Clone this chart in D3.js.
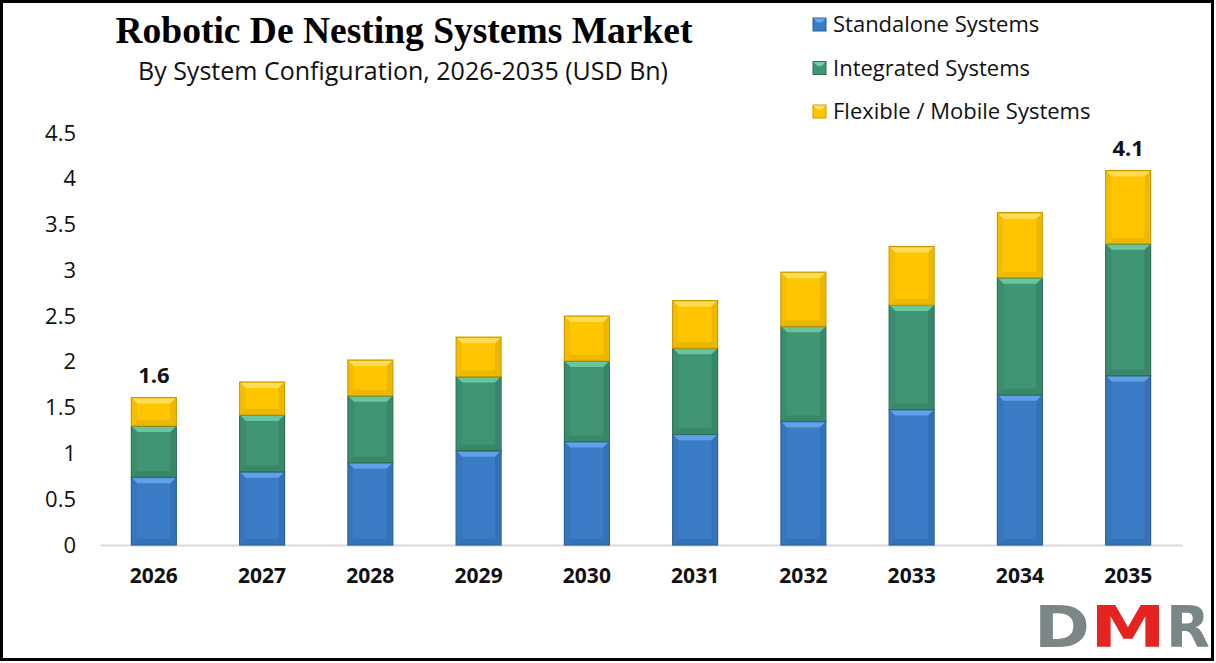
<!DOCTYPE html>
<html>
<head>
<meta charset="utf-8">
<script src="https://cdn.jsdelivr.net/npm/d3@7"></script>
<style>
  body { margin: 0; background: #fff; }
  svg { display: block; }
  .tick text { font-family: "Open Sans", Arial, sans-serif; }
</style>
</head>
<body>
<div id="chart"></div>
<script>
// chart data
var years = ["2026", "2027", "2028", "2029", "2030", "2031", "2032", "2033", "2034", "2035"];
var standalone = [0.74, 0.80, 0.90, 1.03, 1.13, 1.21, 1.35, 1.48, 1.64, 1.85];
var integrated = [0.56, 0.62, 0.73, 0.81, 0.88, 0.94, 1.04, 1.14, 1.28, 1.44];
var flexible   = [0.31, 0.36, 0.39, 0.43, 0.49, 0.52, 0.59, 0.64, 0.71, 0.80];
var seriesNames = ["Standalone Systems", "Integrated Systems", "Flexible / Mobile Systems"];
var yTicks = [0, 0.5, 1, 1.5, 2, 2.5, 3, 3.5, 4, 4.5];
var totalLabels = [{i: 0, text: "1.6"}, {i: 9, text: "4.1"}];

var width = 1216, height = 663;
var colors = [
  {base: "#3a7cc6", light: "#67a8ec", dark: "#2a5e99"},
  {base: "#3f9574", light: "#6fcfa4", dark: "#2d6e55"},
  {base: "#ffc600", light: "#ffe066", dark: "#c99a00"}
];

var svg = d3.select("#chart").append("svg")
  .attr("width", width)
  .attr("height", height);

// outer frame
svg.append("rect")
  .attr("x", 1.5).attr("y", 1.5)
  .attr("width", 1211).attr("height", 658)
  .attr("fill", "#fff")
  .attr("stroke", "#000")
  .attr("stroke-width", 3);

var x = d3.scaleBand()
  .domain(years)
  .range([100, 1182])
  .paddingInner(0.585)
  .paddingOuter(0.29);

var y = d3.scaleLinear()
  .domain([0, 4.5])
  .range([545, 133]);

// stacking
var rows = years.map(function(yr, i) {
  return {year: yr, s0: standalone[i], s1: integrated[i], s2: flexible[i]};
});
var stack = d3.stack().keys(["s0", "s1", "s2"]);
var layers = stack(rows);

// axes
var yAxis = svg.append("g")
  .attr("transform", "translate(100,0)")
  .call(d3.axisLeft(y).tickValues(yTicks).tickSize(0).tickPadding(24)
    .tickFormat(function(d) { return d; }));
yAxis.select(".domain").remove();
yAxis.selectAll("text")
  .attr("font-size", 22)
  .attr("fill", "#111");

var xAxis = svg.append("g")
  .attr("transform", "translate(0,545)")
  .call(d3.axisBottom(x).tickSize(0).tickPadding(23));
xAxis.select(".domain").attr("stroke", "#d9d9d9").attr("stroke-width", 2);
xAxis.selectAll("text")
  .attr("font-size", 21)
  .attr("font-weight", "bold")
  .attr("fill", "#111");

// bars with bevel look
var bev = 6;
layers.forEach(function(layer, k) {
  var c = colors[k];
  var g = svg.append("g");
  var segs = g.selectAll("g").data(layer).enter().append("g");
  segs.append("rect")
    .attr("x", function(d) { return x(d.data.year); })
    .attr("y", function(d) { return y(d[1]); })
    .attr("width", x.bandwidth())
    .attr("height", function(d) { return y(d[0]) - y(d[1]); })
    .attr("fill", c.base)
    .attr("stroke", c.dark)
    .attr("stroke-width", 1.2);
  // top bevel
  segs.append("path")
    .attr("fill", c.light)
    .attr("opacity", 0.85)
    .attr("d", function(d) {
      var x0 = x(d.data.year), x1 = x0 + x.bandwidth(), t = y(d[1]);
      return "M" + (x0 + 1) + "," + (t + 1) + "L" + (x1 - 1) + "," + (t + 1) +
        "L" + (x1 - bev) + "," + (t + bev) + "L" + (x0 + bev) + "," + (t + bev) + "Z";
    });
  // side and bottom shading
  segs.append("path")
    .attr("fill", c.dark)
    .attr("opacity", 0.35)
    .attr("d", function(d) {
      var x0 = x(d.data.year), x1 = x0 + x.bandwidth(), t = y(d[1]), b = y(d[0]);
      return "M" + (x1 - 1) + "," + (t + 1) + "L" + (x1 - 1) + "," + (b - 1) +
        "L" + (x0 + 1) + "," + (b - 1) + "L" + (x0 + bev) + "," + (b - bev) +
        "L" + (x1 - bev) + "," + (b - bev) + "L" + (x1 - bev) + "," + (t + bev) + "Z";
    });
  segs.append("path")
    .attr("fill", c.dark)
    .attr("opacity", 0.2)
    .attr("d", function(d) {
      var x0 = x(d.data.year), t = y(d[1]), b = y(d[0]);
      return "M" + (x0 + 1) + "," + (t + 1) + "L" + (x0 + bev) + "," + (t + bev) +
        "L" + (x0 + bev) + "," + (b - bev) + "L" + (x0 + 1) + "," + (b - 1) + "Z";
    });
});

// total labels
svg.selectAll(".totLabel").data(totalLabels).enter().append("text")
  .attr("class", "totLabel")
  .attr("x", function(d) { return x(years[d.i]) + x.bandwidth() / 2; })
  .attr("y", function(d) { return y(standalone[d.i] + integrated[d.i] + flexible[d.i]) - 15; })
  .attr("text-anchor", "middle")
  .attr("font-family", "Open Sans, Arial, sans-serif")
  .attr("font-size", 22)
  .attr("font-weight", "bold")
  .attr("fill", "#111")
  .text(function(d) { return d.text; });

// title
svg.append("text")
  .attr("x", 404).attr("y", 43)
  .attr("text-anchor", "middle")
  .attr("font-family", "Liberation Serif, Times New Roman, serif")
  .attr("font-size", 37.5)
  .attr("font-weight", "bold")
  .attr("fill", "#000")
  .text("Robotic De Nesting Systems Market");

svg.append("text")
  .attr("x", 403).attr("y", 80)
  .attr("text-anchor", "middle")
  .attr("font-family", "Open Sans, Arial, sans-serif")
  .attr("font-size", 25)
  .attr("fill", "#111")
  .text("By System Configuration, 2026-2035 (USD Bn)");

// legend
var legend = svg.selectAll(".leg").data(seriesNames).enter().append("g")
  .attr("class", "leg")
  .attr("transform", function(d, i) { return "translate(813," + (24 + i * 43.5) + ")"; });
legend.append("rect")
  .attr("x", 0).attr("y", -6)
  .attr("width", 13).attr("height", 13)
  .attr("fill", function(d, i) { return colors[i].base; })
  .attr("stroke", function(d, i) { return colors[i].dark; });
legend.append("path")
  .attr("d", "M0.5,-5.5L12.5,-5.5L8.5,-1.5L4.5,-1.5Z")
  .attr("fill", function(d, i) { return colors[i].light; });
legend.append("text")
  .attr("x", 20).attr("y", 8)
  .attr("font-family", "Open Sans, Arial, sans-serif")
  .attr("font-size", 22)
  .attr("fill", "#111")
  .text(function(d) { return d; });

// DMR logo
var logo = svg.append("g").attr("transform", "translate(0,647)");
var logoFont = "DejaVu Sans, sans-serif";
[{t: "D", x: 1034, w: 56, c: "#7b8786"},
 {t: "M", x: 1090, w: 76, c: "#e52421"},
 {t: "R", x: 1166, w: 44, c: "#7b8786"}].forEach(function(l) {
  logo.append("text").attr("x", l.x).attr("y", 0)
    .attr("font-family", logoFont).attr("font-weight", "bold")
    .attr("font-size", 57).attr("fill", l.c)
    .attr("textLength", l.w).attr("lengthAdjust", "spacingAndGlyphs")
    .text(l.t);
});
</script>
</body>
</html>
